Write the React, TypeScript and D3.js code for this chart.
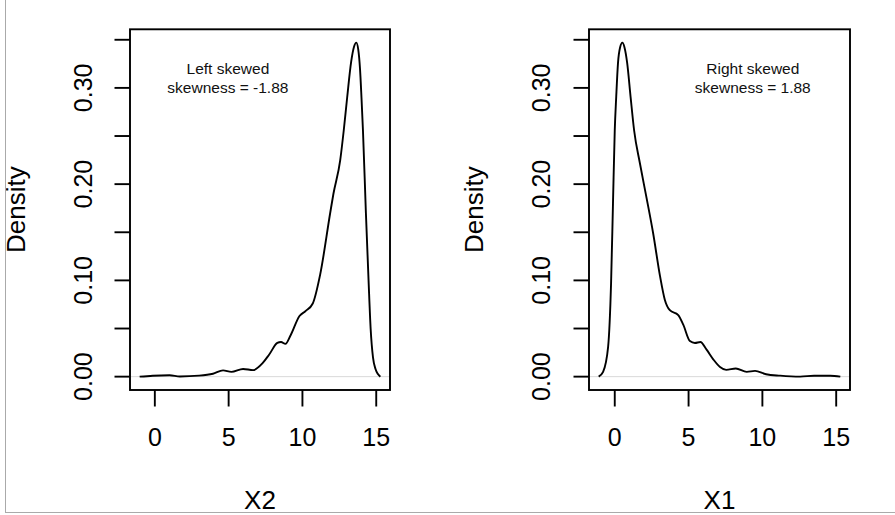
import React from "react";
import * as d3 from "d3";

// Density estimate of X2 (left-skewed): grid x and density values
const x2Grid = [-1.03, -0.14, 1.0, 1.7, 3.0, 3.94, 4.62, 5.19, 5.98, 6.66, 7.3, 7.75, 8.3, 8.55, 8.85, 9.2, 9.8, 10.2, 10.7, 11.2, 11.88, 12.1, 12.56, 12.8, 13.03, 13.3, 13.5, 13.65, 13.78, 13.9, 14.0, 14.1, 14.3, 14.48, 14.62, 14.78, 14.95, 15.1, 15.28];
const x2Density = [0, 0.001, 0.0015, 0.0002, 0.001, 0.003, 0.0065, 0.005, 0.008, 0.0068, 0.014, 0.023, 0.035, 0.036, 0.034, 0.043, 0.063, 0.068, 0.076, 0.106, 0.17, 0.19, 0.225, 0.256, 0.29, 0.327, 0.343, 0.347, 0.34, 0.32, 0.29, 0.256, 0.17, 0.1, 0.05, 0.02, 0.008, 0.003, 0];

// Density estimate of X1 (right-skewed)
const x1Grid = [-1.09, -0.79, -0.45, -0.25, -0.12, 0.0, 0.1, 0.22, 0.36, 0.52, 0.66, 0.84, 1.07, 1.31, 1.7, 2.15, 2.6, 3.06, 3.39, 3.73, 4.3, 4.64, 5.09, 5.43, 5.8, 6.22, 6.67, 7.13, 7.55, 8.2, 8.94, 9.5, 10.25, 11.2, 12.56, 13.5, 14.6, 15.28];
const x1Density = [0, 0.005, 0.031, 0.097, 0.18, 0.256, 0.291, 0.326, 0.342, 0.347, 0.342, 0.326, 0.291, 0.256, 0.222, 0.186, 0.149, 0.105, 0.08, 0.069, 0.064, 0.054, 0.037, 0.035, 0.036, 0.028, 0.018, 0.01, 0.007, 0.0085, 0.005, 0.006, 0.0025, 0.001, 0, 0.001, 0.001, 0];

const xTicks = [0, 5, 10, 15];
const yTicks = [0, 0.05, 0.1, 0.15, 0.2, 0.25, 0.3, 0.35];
const yTickLabels = ["0.00", "0.10", "0.20", "0.30"];
const yLabelValues = [0, 0.1, 0.2, 0.3];

const panels = [
  { xs: x2Grid, ys: x2Density, xlab: "X2", left: 130, right: 390, labelTitle: "Left skewed", labelStat: "skewness = -1.88", annX: 4.95, annY: 0.31, densX: 25, tickLabX: 91.5 },
  { xs: x1Grid, ys: x1Density, xlab: "X1", left: 589, right: 850, labelTitle: "Right skewed", labelStat: "skewness = 1.88", annX: 9.35, annY: 0.31, densX: 483, tickLabX: 550 },
];

const TOP = 29.3;
const BOTTOM = 390;
const FONT = "'Liberation Sans', Arial, Helvetica, sans-serif";

function Panel({ p }: { p: typeof panels[number] }) {
  const xmin = d3.min(p.xs)!, xmax = d3.max(p.xs)!;
  const ymax = d3.max(p.ys)!;
  const xpad = (xmax - xmin) * 0.04;
  const ypad = ymax * 0.04;
  const x = d3.scaleLinear().domain([xmin - xpad, xmax + xpad]).range([p.left, p.right]);
  const y = d3.scaleLinear().domain([-ypad, ymax + ypad]).range([BOTTOM, TOP]);
  const line = d3.line<number>().x((_, i) => x(p.xs[i])).y((d) => y(d)).curve(d3.curveMonotoneX);
  const cx = (p.left + p.right) / 2;
  const cy = (TOP + BOTTOM) / 2;
  return (
    <g>
      <line x1={p.left} x2={p.right} y1={y(0)} y2={y(0)} stroke="#d9d9d9" strokeWidth={1} />
      <path d={line(p.ys) || ""} fill="none" stroke="#000" strokeWidth={1.9} strokeLinejoin="round" />
      <rect x={p.left} y={TOP} width={p.right - p.left} height={BOTTOM - TOP} fill="none" stroke="#000" strokeWidth={1.9} />
      {xTicks.map((t) => (
        <g key={"x" + t}>
          <line x1={x(t)} x2={x(t)} y1={BOTTOM} y2={BOTTOM + 16.5} stroke="#000" strokeWidth={1.9} />
          <text x={x(t)} y={446} textAnchor="middle" fontSize={25} fontFamily={FONT} fill="#000">{t}</text>
        </g>
      ))}
      {yTicks.map((t) => (
        <line key={"y" + t} x1={p.left - 15.5} x2={p.left} y1={y(t)} y2={y(t)} stroke="#000" strokeWidth={1.9} />
      ))}
      {yLabelValues.map((t, i) => (
        <text key={"yl" + t} transform={`translate(${p.tickLabX},${y(t)}) rotate(-90)`} textAnchor="middle" fontSize={25} fontFamily={FONT} fill="#000">{yTickLabels[i]}</text>
      ))}
      <text x={cx} y={508.5} textAnchor="middle" fontSize={26} fontFamily={FONT} fill="#000">{p.xlab}</text>
      <text transform={`translate(${p.densX},${cy}) rotate(-90)`} textAnchor="middle" fontSize={26} fontFamily={FONT} fill="#000">Density</text>
      <text x={x(p.annX)} y={y(p.annY) - 4.5} textAnchor="middle" fontSize={15.5} fontFamily={FONT} fill="#111">{p.labelTitle}</text>
      <text x={x(p.annX)} y={y(p.annY) + 14.5} textAnchor="middle" fontSize={15.5} fontFamily={FONT} fill="#111">{p.labelStat}</text>
    </g>
  );
}

export default function App() {
  return (
    <svg width={895} height={515} style={{ position: "absolute", left: 0, top: 0, background: "#fff" }}>
      <rect x={0} y={0} width={895} height={515} fill="#fff" />
      {panels.map((p) => (
        <Panel key={p.xlab} p={p} />
      ))}
      <line x1={5.5} x2={5.5} y1={0} y2={512} stroke="#aaa" strokeWidth={1} />
      <line x1={5} x2={895} y1={512.5} y2={512.5} stroke="#aaa" strokeWidth={1} />
    </svg>
  );
}
